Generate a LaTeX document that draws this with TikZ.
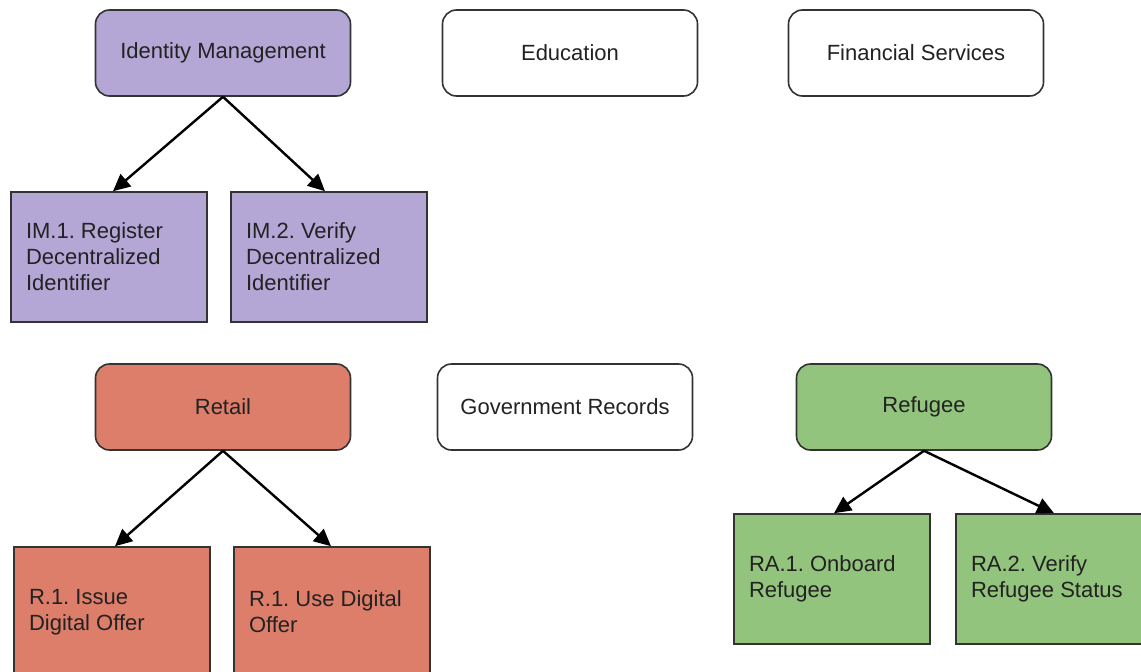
\documentclass[tikz,border=0pt]{standalone}
\usepackage{fontspec}
\setmainfont{Liberation Sans}
\usetikzlibrary{arrows.meta}
\definecolor{purp}{HTML}{B4A7D6}
\definecolor{redd}{HTML}{DD7E6B}
\definecolor{grn}{HTML}{93C47D}
\definecolor{edge}{HTML}{333333}
\definecolor{txt}{HTML}{222222}
\tikzset{
  cat/.style={draw=edge, line width=1.6pt, rounded corners=14pt, minimum width=255pt, minimum height=86pt, inner sep=0pt, text=txt, font=\fontsize{22}{26}\selectfont\frenchspacing},
  task/.style={draw=edge, line width=1.6pt, minimum width=196pt, minimum height=130pt, text width=166pt, inner xsep=15pt, inner ysep=0pt, align=flush left, text=txt, font=\fontsize{22}{26}\selectfont\frenchspacing},
  arr/.style={line width=2.4pt, -{Triangle[length=17pt,width=16pt]}, black},
}
\begin{document}
\begin{tikzpicture}[x=1pt,y=-1pt]
\useasboundingbox (0,0) rectangle (1141,672);
\clip (0,0) rectangle (1141,672);
\fill[white] (0,0) rectangle (1141,672);
\node[cat, fill=purp] (im) at (223,53) {Identity Management};
\node[cat, fill=white] (edu) at (570,53) {Education};
\node[cat, fill=white] (fin) at (916,53) {Financial Services};
\node[task, fill=purp] (im1) at (109,257) {IM.1. Register\\Decentralized\\Identifier};
\node[task, fill=purp] (im2) at (329,257) {IM.2. Verify\\Decentralized\\Identifier};
\node[cat, fill=redd] (ret) at (223,407) {Retail};
\node[cat, fill=white] (gov) at (565,407) {Government Records};
\node[cat, fill=grn] (ref) at (924,407) {Refugee};
\node[task, fill=redd] (r1) at (112,612) {R.1. Issue\\Digital Offer};
\node[task, fill=redd] (r2) at (332,612) {R.1. Use Digital\\Offer};
\node[task, fill=grn] (ra1) at (832,579) {RA.1. Onboard\\Refugee};
\node[task, fill=grn] (ra2) at (1054,579) {RA.2. Verify\\Refugee Status};
\draw[arr] (im.south) -- ([xshift=4pt]im1.north);
\draw[arr] (im.south) -- ([xshift=-4pt]im2.north);
\draw[arr] (ret.south) -- ([xshift=3pt]r1.north);
\draw[arr] (ret.south) -- ([xshift=-1pt]r2.north);
\draw[arr] (ref.south) -- ([xshift=2pt]ra1.north);
\draw[arr] (ref.south) -- (ra2.north);
\end{tikzpicture}
\end{document}
